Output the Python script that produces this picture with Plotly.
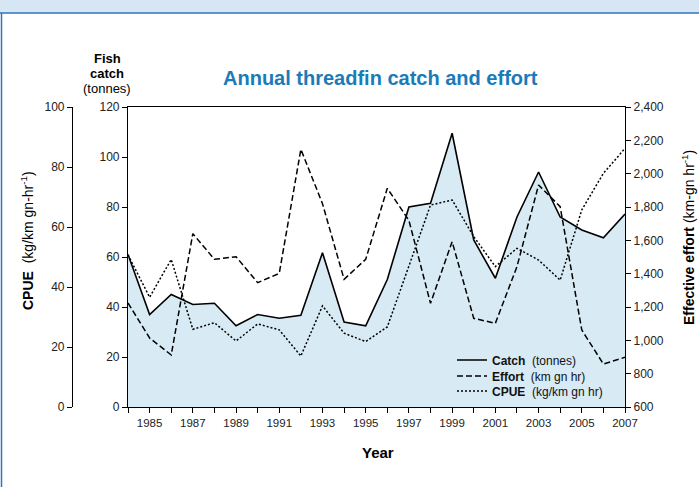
import plotly.graph_objects as go

years = list(range(1984, 2008))
catch_t = [61, 37, 45, 41, 41.5, 32.5, 37, 35.5, 36.7, 61.7, 34, 32.5, 51, 80, 81.5, 109.5, 66.8, 51.5, 76, 94, 76, 70.8, 67.7, 77.2]
effort = [1224, 1014, 912, 1640, 1486, 1502, 1346, 1402, 2146, 1820, 1366, 1486, 1912, 1720, 1222, 1592, 1132, 1102, 1442, 1932, 1802, 1062, 858, 898]
cpue = [50.7, 36.6, 49.2, 25.9, 28.1, 22, 27.7, 25.7, 17, 33.7, 24.6, 21.8, 26.7, 47, 67.3, 69, 56.8, 46.8, 52.9, 49, 42.3, 65.7, 77.9, 86.2]

x_ticks = years
x_text = [str(y) if y % 2 == 1 else "" for y in years]

W, H = 699, 487
L, R, T, B = 50, 74, 107, 80
PW = W - L - R
PH = H - T - B

def px(x):
    return (x - L) / PW

def py(y):
    return (H - B - y) / PH

font = "Liberation Sans, Arial, sans-serif"
fig = go.Figure()

fig.add_trace(go.Scatter(x=years, y=catch_t, mode="lines", fill="tozeroy",
                         fillcolor="#d8eaf3", line=dict(width=0, color="rgba(0,0,0,0)"),
                         showlegend=False, hoverinfo="skip"))
fig.add_trace(go.Scatter(x=years, y=catch_t, mode="lines", name="<b>Catch</b>\u00a0\u00a0(tonnes)",
                         line=dict(color="black", width=1.6), legend="legend"))
fig.add_trace(go.Scatter(x=years, y=effort, mode="lines", name="<b>Effort</b>\u00a0\u00a0(km gn hr)",
                         yaxis="y2", line=dict(color="black", width=1.5, dash="6px,3px"),
                         legend="legend2"))
fig.add_trace(go.Scatter(x=years, y=cpue, mode="lines", name="<b>CPUE</b>\u00a0\u00a0(kg/km gn hr)",
                         yaxis="y3", line=dict(color="black", width=1.5, dash="2px,2px"),
                         legend="legend3"))

d0 = px(128)
tickfont = dict(family=font, size=12, color="#222")
xtickfont = dict(family=font, size=11.5, color="#222")
legfont = dict(family=font, size=12, color="#111")

def leg(yp):
    return dict(x=px(452), y=py(yp), xanchor="left", yanchor="middle",
                bgcolor="rgba(0,0,0,0)", font=legfont, borderwidth=0)

fig.update_layout(
    width=W, height=H,
    margin=dict(l=L, r=R, t=T, b=B, autoexpand=False),
    paper_bgcolor="white", plot_bgcolor="white",
    showlegend=True,
    legend=leg(360), legend2=leg(376), legend3=leg(391),
    xaxis=dict(domain=[d0, 1], range=[1984, 2007], tickmode="array", tickvals=x_ticks,
               ticktext=x_text, ticks="outside", ticklen=5, tickcolor="black",
               showline=True, linecolor="black", linewidth=1.2, mirror=True,
               showgrid=False, zeroline=False, tickfont=xtickfont),
    yaxis=dict(range=[0, 120], dtick=20, ticks="outside", ticklen=5, tickcolor="black",
               showline=True, linecolor="black", linewidth=1.2, showgrid=False,
               zeroline=False, tickfont=tickfont),
    yaxis2=dict(range=[600, 2400], dtick=200, tickformat=",", overlaying="y", side="right",
                ticks="outside", ticklen=5, tickcolor="black", showline=True,
                linecolor="black", linewidth=1.2, showgrid=False, zeroline=False,
                tickfont=tickfont),
    yaxis3=dict(range=[0, 100], dtick=20, overlaying="y", side="left", anchor="free",
                position=px(72), ticks="outside", ticklen=5, tickcolor="black",
                showline=True, linecolor="black", linewidth=1.2, showgrid=False,
                zeroline=False, tickfont=tickfont),
)

ann = [
    dict(x=px(380), y=py(78), text="<b>Annual threadfin catch and effort</b>",
         font=dict(family=font, size=20, color="#1a7bb9")),
    dict(x=px(107), y=py(58), text="<b>Fish</b>", font=dict(family=font, size=13, color="black")),
    dict(x=px(107), y=py(73), text="<b>catch</b>", font=dict(family=font, size=13, color="black")),
    dict(x=px(107), y=py(88), text="(tonnes)", font=dict(family=font, size=13, color="black")),
    dict(x=px(378), y=py(452), text="<b>Year</b>", font=dict(family=font, size=15, color="black")),
    dict(x=px(27), y=py(241), textangle=-90,
         text="<b>CPUE</b>\u00a0\u00a0(kg/km gn-hr<sup>-1</sup>)",
         font=dict(family=font, size=14, color="black")),
    dict(x=px(688), y=py(238), textangle=-90,
         text="<b>Effective effort</b> (km-gn hr<sup>-1</sup>)",
         font=dict(family=font, size=14, color="black")),
]
for a in ann:
    a.update(xref="paper", yref="paper", showarrow=False, xanchor="center", yanchor="middle")
fig.update_layout(annotations=ann)

fig.update_layout(shapes=[
    dict(type="rect", xref="paper", yref="paper", x0=px(-2), x1=px(W + 2), y0=py(-2), y1=py(13),
         fillcolor="#d6e6f5", line=dict(width=0), layer="below"),
    dict(type="line", xref="paper", yref="paper", x0=px(0), x1=px(W + 2), y0=py(13), y1=py(13),
         line=dict(color="#2f74b8", width=1.5)),
    dict(type="line", xref="paper", yref="paper", x0=px(1.5), x1=px(1.5), y0=py(13), y1=py(H + 2),
         line=dict(color="#2f74b8", width=1.5)),
])

fig.write_html("out.html", config={"displayModeBar": False},
               post_script="document.body.style.margin='0';document.body.style.overflow='hidden';")
